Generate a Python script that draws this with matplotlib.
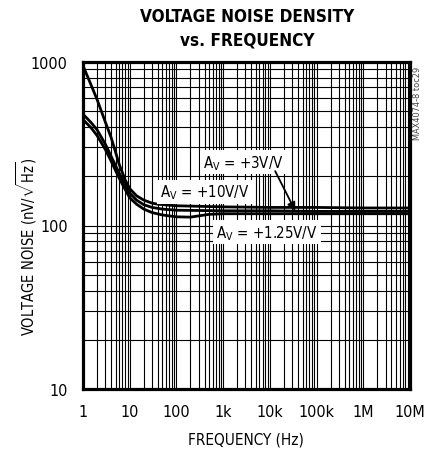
import matplotlib
matplotlib.use("Agg")
import matplotlib.pyplot as plt
from matplotlib.ticker import LogLocator, NullFormatter

plt.rcParams["font.family"] = ["DejaVu Sans"]
plt.rcParams["font.stretch"] = "condensed"
plt.rcParams["mathtext.fontset"] = "custom"
plt.rcParams["mathtext.rm"] = "DejaVu Sans:stretch=condensed"
plt.rcParams["mathtext.it"] = "DejaVu Sans:stretch=condensed"

# (Hz, nV/rtHz)
freq_a = [1, 1.5, 2, 3, 4, 5, 6, 8, 10, 14, 20, 30, 40, 100, 1e3, 1e4, 1e5, 1e6, 1e7]
noise_a = [950, 720, 590, 430, 345, 280, 235, 190, 168, 152, 143, 137, 135, 132, 130, 129, 129, 128, 128]

freq_b = [1, 1.5, 2, 3, 4, 5, 6, 8, 10, 14, 20, 30, 50, 100, 1e3, 1e4, 1e5, 1e6, 1e7]
noise_b = [480, 425, 385, 315, 265, 232, 208, 178, 158, 143, 134, 129, 126, 124, 123, 123, 122, 122, 122]

freq_c = [1, 1.5, 2, 3, 4, 5, 6, 8, 10, 14, 20, 30, 50, 100, 200, 300, 500, 1e3, 1e4, 1e5, 1e6, 1e7]
noise_c = [445, 395, 355, 292, 248, 216, 194, 166, 148, 135, 126, 120, 116, 113, 112.5, 114.5, 117, 118, 118, 118, 118, 118]

xticks = [1, 10, 100, 1e3, 1e4, 1e5, 1e6, 1e7]
xtick_labels = ["1", "10", "100", "1k", "10k", "100k", "1M", "10M"]
yticks = [10, 100, 1000]
ytick_labels = ["10", "100", "1000"]

fig = plt.figure(figsize=(4.26, 4.52), dpi=100)
ax = fig.add_axes([83 / 426, 62 / 452, 327 / 426, 327 / 452])

for f, n in [(freq_a, noise_a), (freq_b, noise_b), (freq_c, noise_c)]:
    ax.plot(f, n, color="black", lw=2.0, solid_joinstyle="round", zorder=3)

ax.set_xscale("log")
ax.set_yscale("log")
ax.set_xlim(1, 1e7)
ax.set_ylim(10, 1000)

ax.xaxis.set_minor_locator(LogLocator(base=10, subs=range(2, 10), numticks=20))
ax.yaxis.set_minor_locator(LogLocator(base=10, subs=range(2, 10), numticks=20))
ax.xaxis.set_minor_formatter(NullFormatter())
ax.yaxis.set_minor_formatter(NullFormatter())
ax.set_xticks(xticks)
ax.set_xticklabels(xtick_labels)
ax.set_yticks(yticks)
ax.set_yticklabels(ytick_labels)
ax.grid(True, which="both", color="black", lw=0.8)
ax.tick_params(which="both", length=0, labelsize=11.5)
ax.tick_params(axis="x", pad=11)
ax.tick_params(axis="y", pad=11)
for s in ax.spines.values():
    s.set_linewidth(2.3)

fig.text(246 / 426, 1 - 440 / 452, "FREQUENCY (Hz)", fontsize=11,
         ha="center", va="center")
fig.text(27 / 426, 1 - 247 / 452, r"VOLTAGE NOISE (nV/$\sqrt{\mathrm{Hz}}$)",
         rotation=90, fontsize=10.5, ha="center", va="center")

fig.text(247 / 426, 1 - 17 / 452, "VOLTAGE NOISE DENSITY", fontsize=12.3,
         fontweight="bold", ha="center", va="center")
fig.text(247 / 426, 1 - 41 / 452, "vs. FREQUENCY", fontsize=12.3,
         fontweight="bold", ha="center", va="center")
fig.text(418 / 426, 1 - 67 / 452, "MAX4074-8 toc29", rotation=90, fontsize=6.6,
         ha="center", va="top", color="#444444")

box = dict(facecolor="white", edgecolor="none", pad=2)
ax.text(410, 160, r"$\mathrm{A_V}$ = +10V/V", fontsize=10.8,
        ha="center", va="center", bbox=box, zorder=5)
ax.text(2.7e3, 244, r"$\mathrm{A_V}$ = +3V/V", fontsize=10.8,
        ha="center", va="center", bbox=box, zorder=5)
ax.annotate("", xy=(3.5e4, 123), xytext=(1.3e4, 215),
            arrowprops=dict(arrowstyle="-|>", color="black", lw=1.3,
                            shrinkA=0, shrinkB=0, mutation_scale=12), zorder=5)
ax.text(8.7e3, 91, r"$\mathrm{A_V}$ = +1.25V/V", fontsize=10.8,
        ha="center", va="center", bbox=box, zorder=5)

fig.savefig("out.png", dpi=100)
